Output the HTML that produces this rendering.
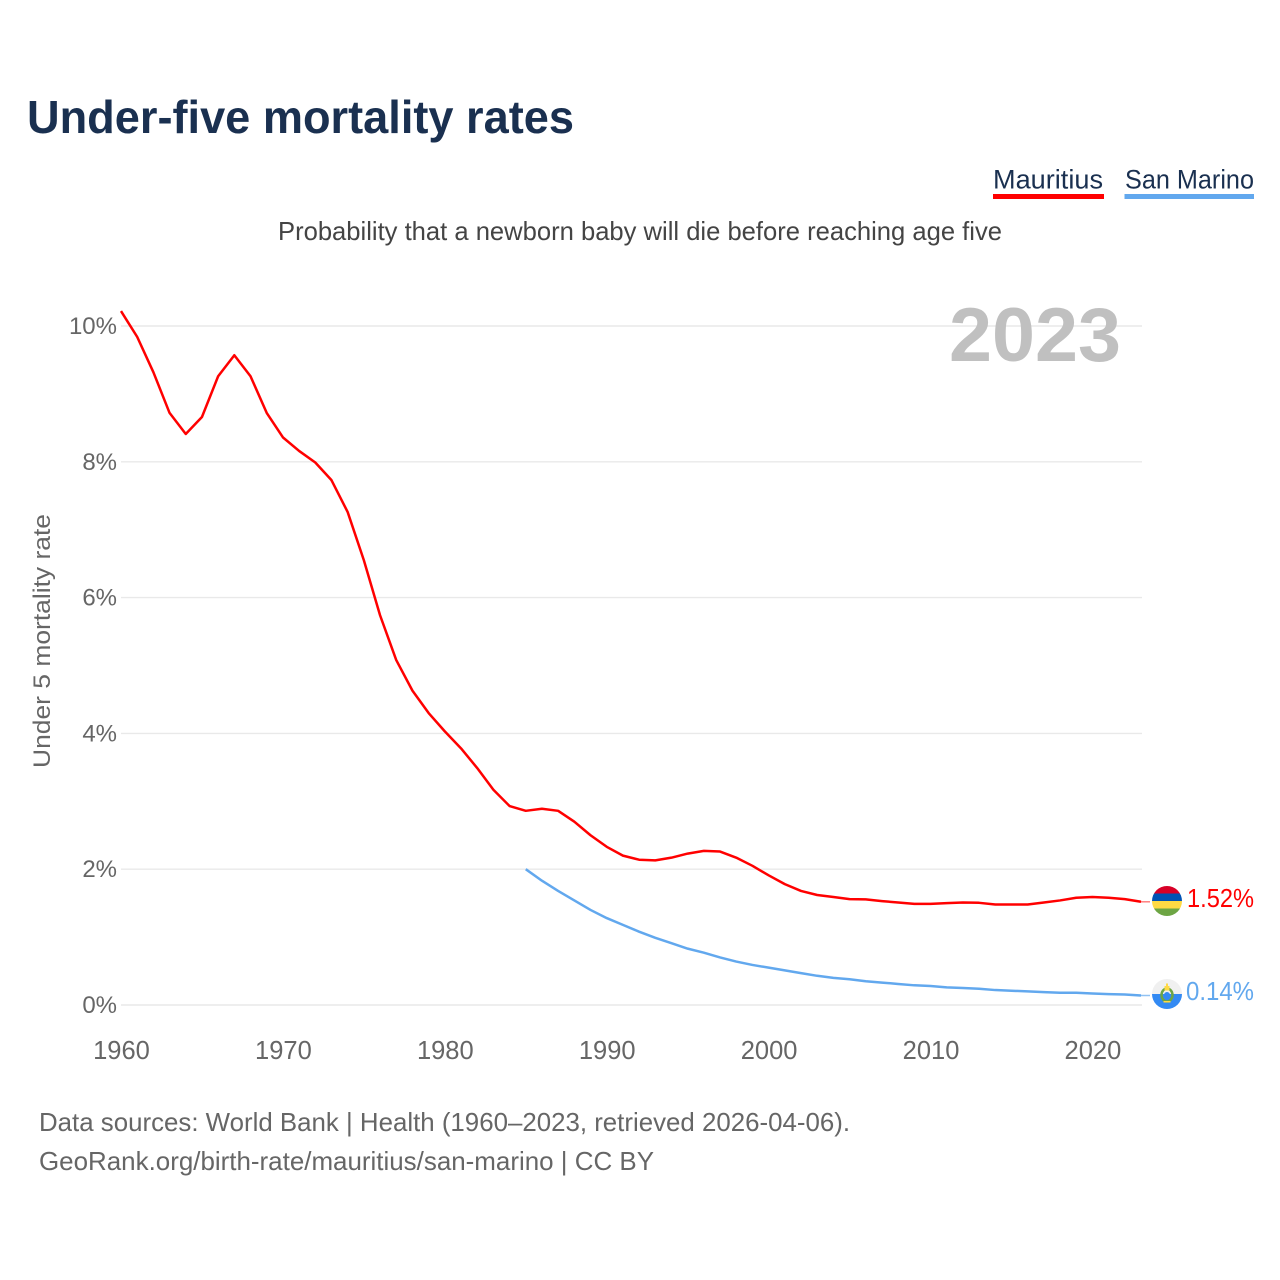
<!DOCTYPE html>
<html lang="en">
<head>
<meta charset="utf-8">
<title>Under-five mortality rates</title>
<style>
html,body{margin:0;padding:0;background:#fff;width:1280px;height:1280px;overflow:hidden}
svg{display:block}
text{font-family:"Liberation Sans",sans-serif}
</style>
</head>
<body>
<svg id="chart" width="1280" height="1280" viewBox="0 0 1280 1280" xmlns="http://www.w3.org/2000/svg">
  <rect width="1280" height="1280" fill="#fff"/>
  <text x="27" y="133" font-size="46" font-weight="bold" fill="#1a3050" textLength="547" lengthAdjust="spacingAndGlyphs">Under-five mortality rates</text>
  <g>
    <text x="993" y="188.500" font-size="27" fill="#1a3050" textLength="110" lengthAdjust="spacingAndGlyphs">Mauritius</text>
    <rect x="993" y="194" width="111" height="5" fill="#ff0000"/>
  </g>
  <g>
    <text x="1125" y="188.500" font-size="27" fill="#1a3050" textLength="129" lengthAdjust="spacingAndGlyphs">San Marino</text>
    <rect x="1124.500" y="194" width="129.500" height="5" fill="#62a8ee"/>
  </g>
  <text x="278" y="240" font-size="26" fill="#444" textLength="724" lengthAdjust="spacingAndGlyphs">Probability that a newborn baby will die before reaching age five</text>
  <g id="grid"></g>
  <text x="949" y="361" font-size="76" font-weight="bold" fill="#c0c0c0" textLength="172" lengthAdjust="spacingAndGlyphs">2023</text>
  <g id="yticks"></g>
  <g id="xticks"></g>
  <text transform="translate(50,768) rotate(-90)" font-size="24.500" fill="#666" textLength="254" lengthAdjust="spacingAndGlyphs">Under 5 mortality rate</text>
  <g id="series"></g>

  <g>
    <clipPath id="clip-mu"><circle cx="1167" cy="901" r="15"/></clipPath>
    <g clip-path="url(#clip-mu)">
      <rect x="1152" y="886" width="30" height="8" fill="#d80027"/>
      <rect x="1152" y="893.500" width="30" height="7.500" fill="#0052b4"/>
      <rect x="1152" y="901" width="30" height="7.500" fill="#ffda44"/>
      <rect x="1152" y="908.500" width="30" height="8" fill="#6da544"/>
    </g>
  </g>
  <g>
    <clipPath id="clip-sm"><circle cx="1167" cy="994" r="15"/></clipPath>
    <g clip-path="url(#clip-sm)">
      <rect x="1152" y="979" width="30" height="15" fill="#f0f0f0"/>
      <rect x="1152" y="994" width="30" height="15" fill="#338af3"/>
    </g>
    <ellipse cx="1167" cy="995" rx="5.500" ry="6.500" fill="none" stroke="#6da544" stroke-width="2.500"/>
    <circle cx="1167" cy="995" r="3" fill="#338af3"/>
    <rect x="1164.500" y="986" width="5" height="4.500" fill="#ffda44"/>
    <rect x="1166" y="983.500" width="2" height="2.500" fill="#ffda44"/>
    <rect x="1163.500" y="1001" width="7" height="1.500" fill="#ffda44"/>
  </g>
  <text x="1187" y="907" font-size="26" fill="#ff0000" textLength="67" lengthAdjust="spacingAndGlyphs">1.52%</text>
  <text x="1186" y="1000" font-size="26" fill="#62a8ee" textLength="68" lengthAdjust="spacingAndGlyphs">0.14%</text>

  <text x="39" y="1131" font-size="26" fill="#666" textLength="811" lengthAdjust="spacingAndGlyphs">Data sources: World Bank | Health (1960–2023, retrieved 2026-04-06).</text>
  <text x="39" y="1170" font-size="26" fill="#666" textLength="615" lengthAdjust="spacingAndGlyphs">GeoRank.org/birth-rate/mauritius/san-marino | CC BY</text>
</svg>
<script>
const years = [1960,1961,1962,1963,1964,1965,1966,1967,1968,1969,1970,1971,1972,1973,1974,1975,1976,1977,1978,1979,1980,1981,1982,1983,1984,1985,1986,1987,1988,1989,1990,1991,1992,1993,1994,1995,1996,1997,1998,1999,2000,2001,2002,2003,2004,2005,2006,2007,2008,2009,2010,2011,2012,2013,2014,2015,2016,2017,2018,2019,2020,2021,2022,2023];
const mauritius = [10.22,9.84,9.32,8.72,8.41,8.66,9.26,9.57,9.26,8.72,8.36,8.16,7.99,7.73,7.26,6.55,5.74,5.08,4.63,4.30,4.03,3.78,3.49,3.17,2.93,2.86,2.89,2.86,2.70,2.50,2.33,2.20,2.14,2.13,2.17,2.23,2.27,2.26,2.17,2.05,1.91,1.78,1.68,1.62,1.59,1.56,1.555,1.53,1.51,1.49,1.49,1.50,1.51,1.505,1.48,1.48,1.48,1.51,1.54,1.58,1.59,1.58,1.56,1.52];
const sanMarinoYears = [1985,1986,1987,1988,1989,1990,1991,1992,1993,1994,1995,1996,1997,1998,1999,2000,2001,2002,2003,2004,2005,2006,2007,2008,2009,2010,2011,2012,2013,2014,2015,2016,2017,2018,2019,2020,2021,2022,2023];
const sanMarino = [2.00,1.83,1.68,1.54,1.40,1.28,1.18,1.08,0.99,0.91,0.83,0.77,0.70,0.64,0.59,0.55,0.51,0.47,0.43,0.40,0.38,0.35,0.33,0.31,0.29,0.28,0.26,0.25,0.24,0.22,0.21,0.20,0.19,0.18,0.18,0.17,0.16,0.155,0.14];
const yTickValues = [0,2,4,6,8,10];
const yTickLabels = ["0%","2%","4%","6%","8%","10%"];
const xTickValues = [1960,1970,1980,1990,2000,2010,2020];

const NS = "http://www.w3.org/2000/svg";
function xScale(year){ return 121 + (year - 1960) * (1141 - 121) / 63; }
function yScale(v){ return 1005 - v * 67.9; }
function make(tag, attrs, parent){
  const el = document.createElementNS(NS, tag);
  for (const k in attrs) el.setAttribute(k, attrs[k]);
  parent.appendChild(el);
  return el;
}
const grid = document.getElementById("grid");
const yticks = document.getElementById("yticks");
const xticks = document.getElementById("xticks");
const seriesGroup = document.getElementById("series");

yTickValues.forEach(function(v, i){
  const line = make("line", {x1: 121, x2: 1142, y1: yScale(v), y2: yScale(v), stroke: "#e9e9e9", "stroke-width": 1.400}, grid);
  
  
  const t = make("text", {x: 117, y: yScale(v) + 8, "text-anchor": "end", "font-size": 24, fill: "#666"}, yticks);
  
  
  t.textContent = yTickLabels[i];
});
xTickValues.forEach(function(y){
  const t = make("text", {x: xScale(y) + 0.5, y: 1059, "text-anchor": "middle", "font-size": 25.500, fill: "#666"}, xticks);
  
  
  t.textContent = String(y);
});
function pathFor(xs, vs){
  return xs.map(function(x, i){
    return (i ? "L" : "M") + xScale(x).toFixed(2) + " " + yScale(vs[i]).toFixed(2);
  }).join(" ");
}
const lineMu = make("path", {d: pathFor(years, mauritius), fill: "none", stroke: "#ff0000", "stroke-width": 2.500, "stroke-linejoin": "round"}, seriesGroup);


const lineSm = make("path", {d: pathFor(sanMarinoYears, sanMarino), fill: "none", stroke: "#62a8ee", "stroke-width": 2.500, "stroke-linejoin": "round"}, seriesGroup);


const lastMu = mauritius[mauritius.length - 1];
const lastSm = sanMarino[sanMarino.length - 1];
const connMu = make("line", {x1: xScale(2023), x2: xScale(2023) + 9, y1: yScale(lastMu), y2: yScale(lastMu), stroke: "#ff0000", "stroke-opacity": 0.500, "stroke-width": 1.500}, seriesGroup);


const connSm = make("line", {x1: xScale(2023), x2: xScale(2023) + 9, y1: yScale(lastSm), y2: yScale(lastSm), stroke: "#62a8ee", "stroke-opacity": 0.700, "stroke-width": 1.500}, seriesGroup);


</script>
</body>
</html>
